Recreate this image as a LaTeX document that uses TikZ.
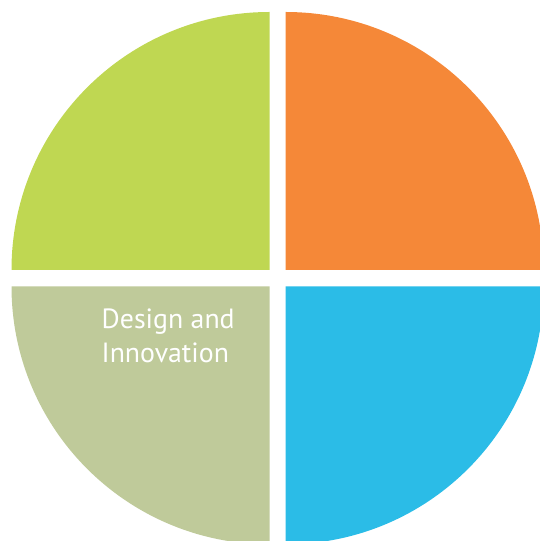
\documentclass[tikz,border=0pt]{standalone}
\usepackage{fontspec}
\setmainfont{PT Sans}
\usepackage{tikz}
\definecolor{leafgreen}{HTML}{BFD752}
\definecolor{warmorange}{HTML}{F58838}
\definecolor{sagegreen}{HTML}{BFCA9A}
\definecolor{skycyan}{HTML}{2BBCE7}

\begin{document}
\begin{tikzpicture}[x=1pt, y=1pt,
    quarter/.style={draw=none},
    label text/.style={text=white, font=\fontsize{27.8}{34.5}\selectfont, align=left, inner sep=0pt, anchor=north west}]
    \useasboundingbox (0,0) rectangle (540,541);
    \clip (0,0) rectangle (540,541);

    % Upper quarters
    \fill[quarter, leafgreen] (269.5,271) -- ++(-258,0) arc[start angle=180, end angle=90, radius=258] -- cycle;
    \fill[quarter, warmorange] (285.7,271) -- ++(0,258) arc[start angle=90, end angle=0, radius=258] -- cycle;

    % Lower quarters
    \fill[quarter, sagegreen] (269.5,254.7) -- ++(0,-258) arc[start angle=270, end angle=180, radius=258] -- cycle;
    \fill[quarter, skycyan] (285.7,254.7) -- ++(258,0) arc[start angle=0, end angle=-90, radius=258] -- cycle;

    % Label
    \node[label text] (design) at (101.5,232.5) {Design and\\Innovation};
\end{tikzpicture}
\end{document}
